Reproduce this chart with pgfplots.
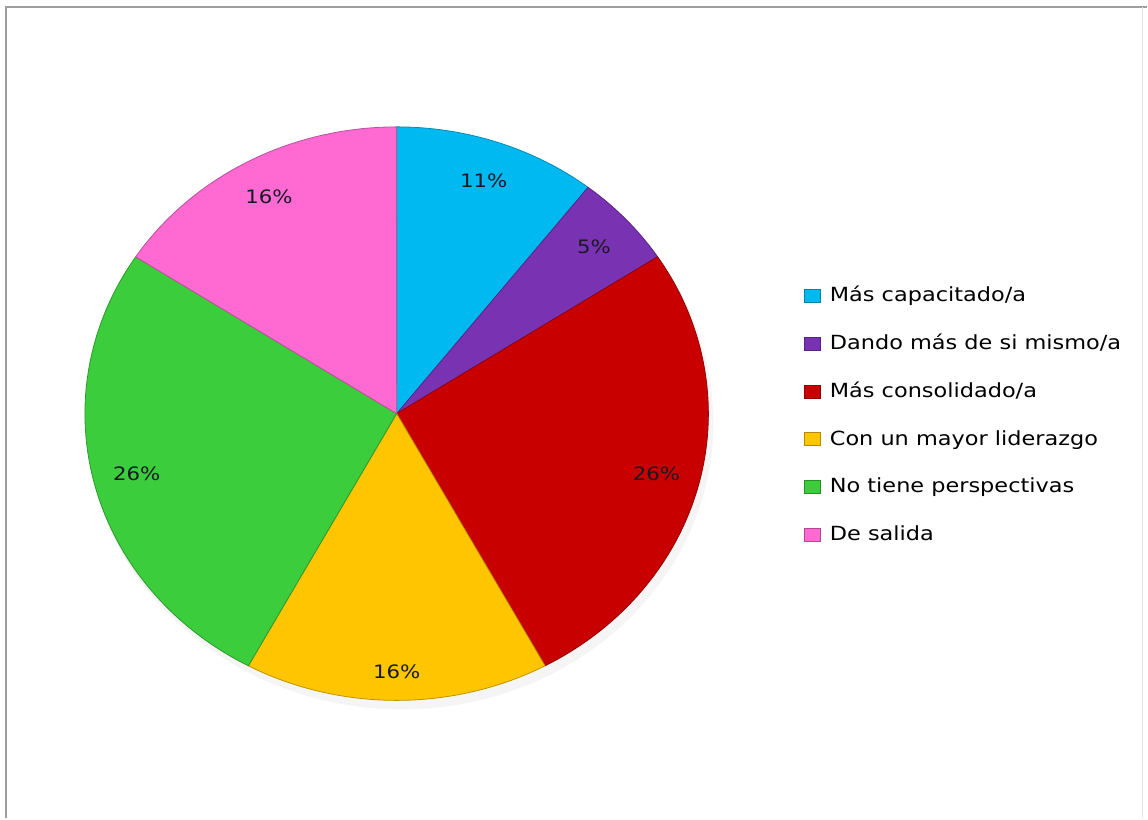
\documentclass[border=0pt]{standalone}
\usepackage{pgfplots}
\pgfplotsset{compat=1.18}
\usepackage{fontspec}
\setmainfont{DejaVu Sans}
\newfontfamily\chartfont[FakeStretch=1.15]{DejaVu Sans}
\definecolor{cblue}{RGB}{0,185,240}
\definecolor{cpurple}{RGB}{120,50,178}
\definecolor{cred}{RGB}{200,0,0}
\definecolor{cyellow}{RGB}{255,198,0}
\definecolor{cgreen}{RGB}{60,205,60}
\definecolor{cpink}{RGB}{255,105,210}
\definecolor{labtxt}{RGB}{25,25,35}
% counts of answers (total 19)
\def\total{19}%
\pgfmathsetmacro{\aO}{90}%
\pgfmathsetmacro{\aA}{\aO-2/\total*360}%
\pgfmathsetmacro{\aB}{\aA-1/\total*360}%
\pgfmathsetmacro{\aC}{\aB-5/\total*360}%
\pgfmathsetmacro{\aD}{\aC-3/\total*360}%
\pgfmathsetmacro{\aE}{\aD-5/\total*360}%
\pgfmathsetmacro{\aF}{\aE-3/\total*360}%
\pgfmathsetmacro{\mA}{(\aO+\aA)/2}%
\pgfmathsetmacro{\mB}{(\aA+\aB)/2}%
\pgfmathsetmacro{\mC}{(\aB+\aC)/2}%
\pgfmathsetmacro{\mD}{(\aC+\aD)/2}%
\pgfmathsetmacro{\mE}{(\aD+\aE)/2}%
\pgfmathsetmacro{\mF}{(\aE+\aF)/2}%
\def\cx{397}\def\cy{405}%
\newcommand{\slice}[3]{%
  \fill[#3, draw=#3!75!black, line width=0.8pt, line join=round]
    (axis cs:\cx,\cy) -- ++(#1:312pt and 287pt) arc[start angle=#1, end angle=#2, x radius=312pt, y radius=287pt] -- cycle;%
}
\newcommand{\slicelabel}[3][0.86]{%
  \node[font=\chartfont\fontsize{18.5}{21}\selectfont, text=labtxt] at ([shift={(#2:#1*312pt and #1*287pt)}]axis cs:\cx,\cy) {#3};%
}
\begin{document}%
\begin{tikzpicture}
\begin{axis}[
  width=1148pt, height=819pt, scale only axis,
  xmin=0, xmax=1148, ymin=0, ymax=819,
  hide axis, clip=false,
  legend style={draw=none, fill=none, at={(axis cs:801,535)}, anchor=north west,
    font=\chartfont\fontsize{19.5}{22}\selectfont, row sep=28.3pt,
    cells={anchor=west, text height=14pt, text depth=4pt}},
  legend cell align=left,
  legend image code/.code={\fill[#1] (0pt,-6.5pt) rectangle (17pt,6.5pt); \path (24pt,0pt);},
]
% full canvas
\path (axis cs:0,0) (axis cs:1148,819);
% frame
\draw[black!38, line width=2pt] (axis cs:6,0) -- (axis cs:6,812) -- (axis cs:1148,812);
\draw[black!10, line width=1pt] (axis cs:1143,0) -- (axis cs:1143,812);
% shadow
\fill[black!8] (axis cs:400,399) ellipse[x radius=313pt, y radius=288pt];
\fill[black!4] (axis cs:402,396) ellipse[x radius=312pt, y radius=287pt];
\slice{\aO}{\aA}{cblue}
\slice{\aA}{\aB}{cpurple}
\slice{\aB}{\aC}{cred}
\slice{\aC}{\aD}{cyellow}
\slice{\aD}{\aE}{cgreen}
\slice{\aE}{\aF}{cpink}
\slicelabel{\mA}{11\%}
\slicelabel{\mB}{5\%}
\slicelabel{\mC}{26\%}
\slicelabel[0.9]{\mD}{16\%}
\slicelabel{\mE}{26\%}
\slicelabel{\mF}{16\%}
\addlegendimage{fill=cblue, draw=cblue!70!black}
\addlegendentry{Más capacitado/a}
\addlegendimage{fill=cpurple, draw=cpurple!70!black}
\addlegendentry{Dando más de si mismo/a}
\addlegendimage{fill=cred, draw=cred!70!black}
\addlegendentry{Más consolidado/a}
\addlegendimage{fill=cyellow, draw=cyellow!70!black}
\addlegendentry{Con un mayor liderazgo}
\addlegendimage{fill=cgreen, draw=cgreen!70!black}
\addlegendentry{No tiene perspectivas}
\addlegendimage{fill=cpink, draw=cpink!70!black}
\addlegendentry{De salida}
\end{axis}
\end{tikzpicture}%
\end{document}
